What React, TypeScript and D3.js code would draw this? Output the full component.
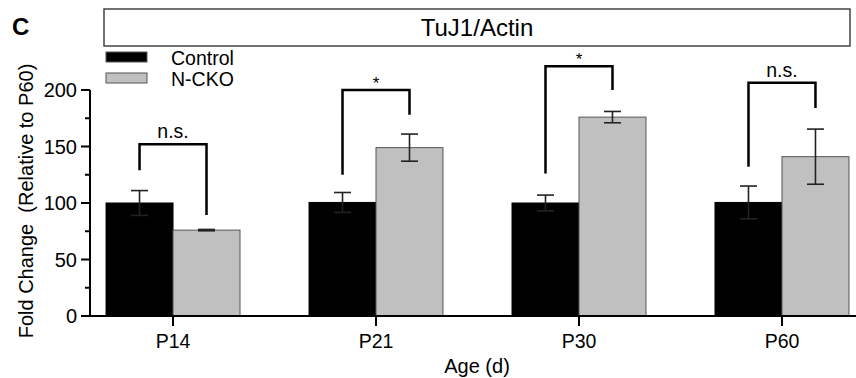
import React from 'react';
import * as d3 from 'd3';

// values
const ages = ['P14', 'P21', 'P30', 'P60'];
const series = ['Control', 'N-CKO'];
const controlMean = [100, 100.5, 100, 100.5];
const controlErr = [11, 8.8, 7, 14.5];
const nckoMean = [76, 149, 176, 141];
const nckoErr = [0.6, 12, 5, 24.4];
const yTicks = [0, 50, 100, 150, 200];
const yMinorTicks = [25, 75, 125, 175];

// significance brackets: top of bracket, end of left leg, end of right leg
const bracketTop = [152, 200, 221, 206.5];
const bracketLeft = [129, 125, 126, 132];
const bracketRight = [89.4, 178, 200, 184];
const bracketLabel = ['n.s.', '*', '*', 'n.s.'];

const W = 856;
const H = 378;
const FONT = '"Liberation Sans", Arial, Helvetica, sans-serif';
const colors: Record<string, string> = { 'Control': '#000000', 'N-CKO': '#c0c0c0' };

export default function App() {
  const axisX = 90;
  const axisEnd = 856;
  const y = d3.scaleLinear().domain([0, 200]).range([316, 90]);

  const x = d3.scaleBand<string>()
    .domain(ages)
    .range([axisX, 865])
    .paddingInner(0.34)
    .paddingOuter(0.079);

  const xs = d3.scaleBand<string>()
    .domain(series)
    .range([0, x.bandwidth()]);

  const means = [controlMean, nckoMean];
  const errs = [controlErr, nckoErr];
  const capHalf = 8.5;

  return (
    <svg width={W} height={H} style={{ position: 'absolute', left: 0, top: 0, background: '#fff' }}
      fontFamily={FONT}>
      {/* panel letter */}
      <text x={12} y={35} fontSize={24} fontWeight="bold">C</text>

      {/* title box */}
      <rect x={104} y={9} width={746} height={37} fill="#fff" stroke="#444" strokeWidth={1.5} />
      <text x={477} y={36} fontSize={24} textAnchor="middle">TuJ1/Actin</text>

      {/* legend */}
      {series.map((s, i) => (
        <g key={s} transform={`translate(106,${52 + i * 21})`}>
          <rect width={41} height={10} fill={colors[s]} stroke="#555" strokeWidth={1} />
          <text x={65} y={13} fontSize={19.5}>{s}</text>
        </g>
      ))}

      {/* bars */}
      {ages.map((a, gi) => (
        <g key={a} transform={`translate(${x(a)},0)`}>
          {series.map((s, si) => {
            const bx = xs(s) as number;
            const m = means[si][gi];
            const e = errs[si][gi];
            const cx = bx + xs.bandwidth() / 2;
            return (
              <g key={s}>
                <rect x={bx} y={y(m)} width={xs.bandwidth()} height={y(0) - y(m)}
                  fill={colors[s]} stroke={si === 0 ? '#000' : '#555'} strokeWidth={1} />
                <g stroke="#222" strokeWidth={1.6} fill="none">
                  <line x1={cx} x2={cx} y1={y(m + e)} y2={y(m - e)} />
                  <line x1={cx - capHalf} x2={cx + capHalf} y1={y(m + e)} y2={y(m + e)} />
                  <line x1={cx - capHalf} x2={cx + capHalf} y1={y(m - e)} y2={y(m - e)} />
                </g>
              </g>
            );
          })}
        </g>
      ))}

      {/* significance brackets */}
      {ages.map((a, gi) => {
        const x0 = (x(a) as number) + (xs('Control') as number) + xs.bandwidth() / 2;
        const x1 = (x(a) as number) + (xs('N-CKO') as number) + xs.bandwidth() / 2;
        const top = y(bracketTop[gi]);
        const lab = bracketLabel[gi];
        const path = d3.path();
        path.moveTo(x0, y(bracketLeft[gi]));
        path.lineTo(x0, top);
        path.lineTo(x1, top);
        path.lineTo(x1, y(bracketRight[gi]));
        return (
          <g key={a}>
            <path d={path.toString()} fill="none" stroke="#000" strokeWidth={2.5} />
            <text x={(x0 + x1) / 2} y={lab === '*' ? top - 1 : top - 6}
              fontSize={lab === '*' ? 17 : 19.5} textAnchor="middle">{lab}</text>
          </g>
        );
      })}

      {/* y axis */}
      <g stroke="#000" strokeWidth={2}>
        <line x1={axisX} x2={axisX} y1={y(0)} y2={y(200)} />
        {yTicks.map(t => (
          <line key={t} x1={axisX - 9} x2={axisX} y1={y(t)} y2={y(t)} />
        ))}
        {yMinorTicks.map(t => (
          <line key={t} x1={axisX - 5} x2={axisX} y1={y(t)} y2={y(t)} />
        ))}
      </g>
      {yTicks.map(t => (
        <text key={t} x={axisX - 13} y={y(t)} dy="0.36em" fontSize={20} textAnchor="end">{t}</text>
      ))}
      <text transform={`translate(33,${201}) rotate(-90)`} fontSize={20} textAnchor="middle"
        style={{ whiteSpace: 'pre' }}>{'Fold Change  (Relative to P60)'}</text>

      {/* x axis */}
      <g stroke="#000" strokeWidth={2}>
        <line x1={axisX} x2={axisEnd} y1={y(0)} y2={y(0)} />
        {ages.map(a => {
          const cx = (x(a) as number) + x.bandwidth() / 2;
          return <line key={a} x1={cx} x2={cx} y1={y(0)} y2={y(0) + 10} />;
        })}
      </g>
      {ages.map(a => (
        <text key={a} x={(x(a) as number) + x.bandwidth() / 2} y={348} fontSize={19.5}
          textAnchor="middle">{a}</text>
      ))}
      <text x={477} y={373} fontSize={20} textAnchor="middle">Age (d)</text>
    </svg>
  );
}
